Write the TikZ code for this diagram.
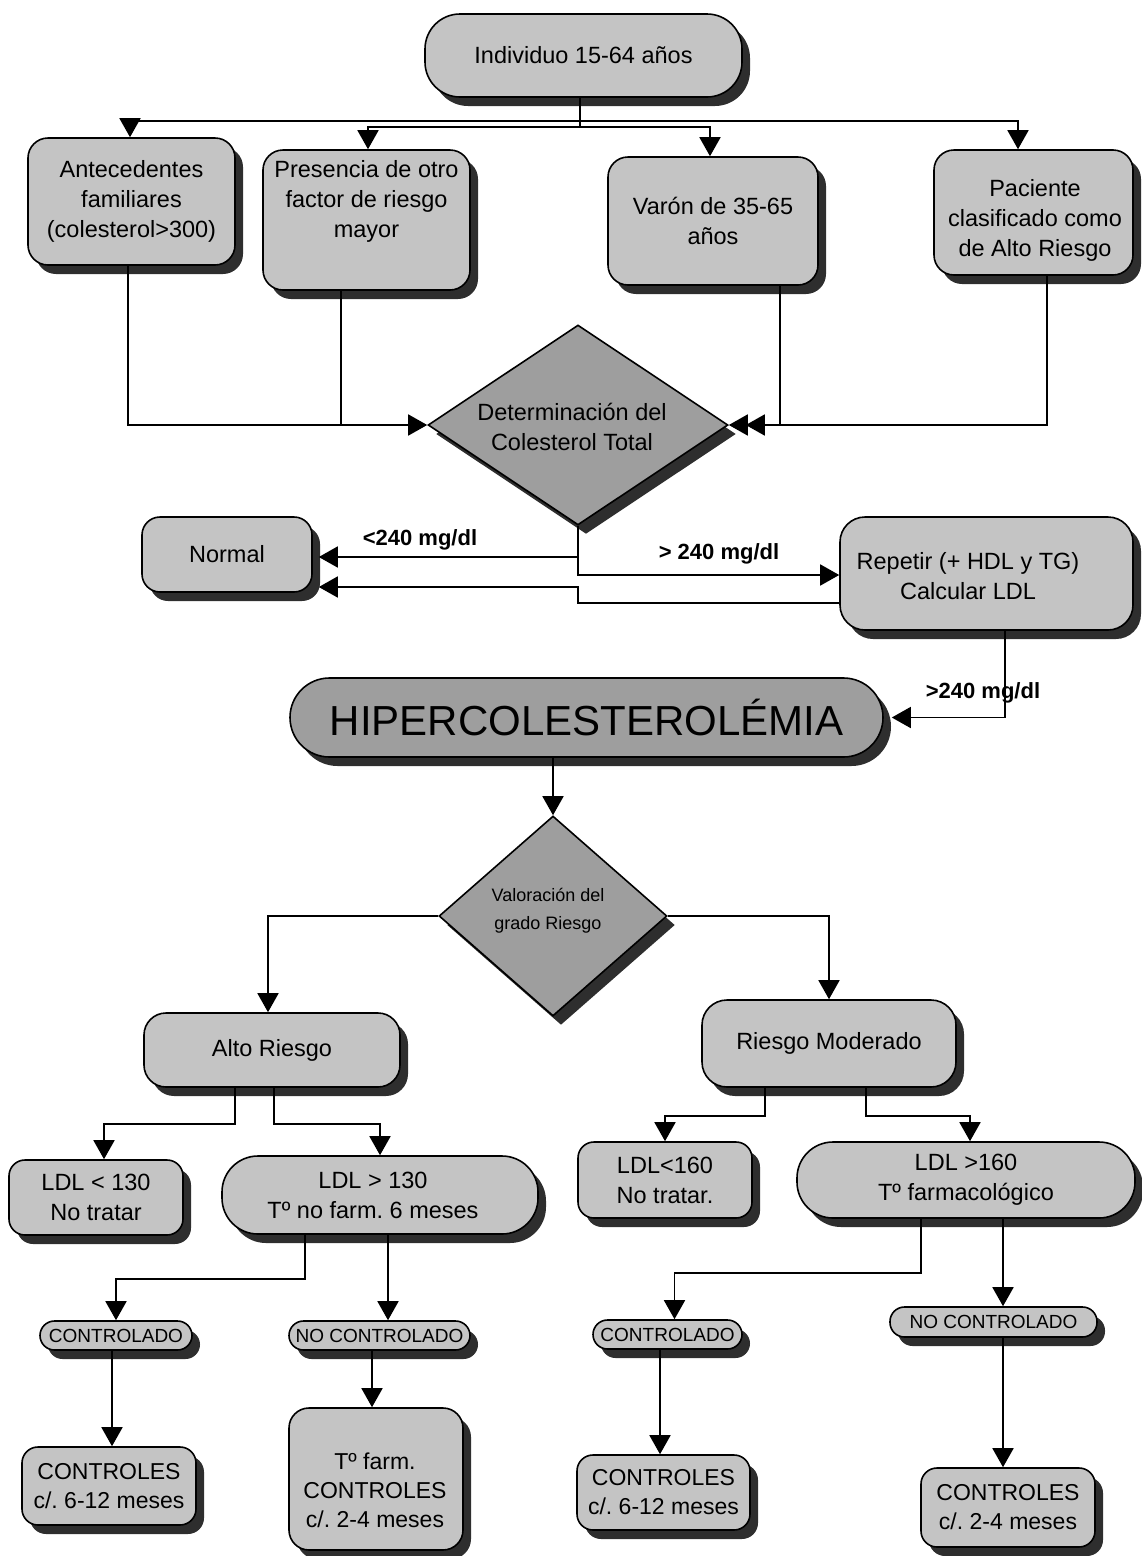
\documentclass[tikz,border=0pt]{standalone}
\usepackage{fontspec}
\setmainfont{Liberation Sans}
\usetikzlibrary{shapes.geometric,shadows,arrows.meta}
\definecolor{boxgray}{gray}{0.77}
\definecolor{diagray}{gray}{0.62}
\definecolor{shadowgray}{gray}{0.18}
\newcommand{\fmain}{\frenchspacing\fontsize{23.5}{30}\selectfont}
\newcommand{\fsmall}{\frenchspacing\fontsize{18}{28}\selectfont}
\newcommand{\fpill}{\fontsize{19}{22}\selectfont}
\newcommand{\fbig}{\fontsize{42}{48}\selectfont}
\newcommand{\flab}{\bfseries\fontsize{22}{26}\selectfont}
\newcommand{\fcon}{\frenchspacing\fontsize{23}{29}\selectfont}
\begin{document}
\begin{tikzpicture}[x=1pt,y=-1pt,
  shad/.style={drop shadow={shadow xshift=8pt,shadow yshift=-9pt,fill=shadowgray,opacity=1}},
  box/.style={draw=black,line width=1.6pt,fill=boxgray,shad,rounded corners=#1,align=center,inner sep=1pt,font=\fmain},
  box/.default=20pt,
  pill/.style={box=14.5pt,minimum height=29pt,font=\fpill,inner sep=0pt},
  dia/.style={diamond,draw=black,line width=1.6pt,fill=diagray,shad,inner sep=0pt},
  txt/.style={align=center,inner sep=0pt,font=\fmain},
  lab/.style={inner sep=0pt,font=\flab},
  ln/.style={line width=1.7pt},
  arr/.style={line width=1.7pt,-{Triangle[length=19pt,width=21pt]}}]
\useasboundingbox (0,0) rectangle (1141,1556);

% nodes
\node[box=35pt,minimum width=317pt,minimum height=83pt] (ind) at (583.5,55.5) {Individuo 15-64 años};
\node[box,minimum width=207pt,minimum height=127pt] (ant) at (131.5,201.5) {Antecedentes\\familiares\\(colesterol>300)};
\node[box,minimum width=207pt,minimum height=140pt] (pres) at (366.5,220) {};
\node[txt] (presT) at (366.5,201) {Presencia de otro\\factor de riesgo\\mayor};
\node[box,minimum width=210pt,minimum height=128pt] (var) at (713,221) {Varón de 35-65\\años};
\node[box,minimum width=199pt,minimum height=125pt] (pac) at (1033.5,212.5) {};
\node[txt] (pacT) at (1035,220) {Paciente\\clasificado como\\de Alto Riesgo};

\node[dia,minimum width=300pt,minimum height=200pt] (dia1) at (578,425) {};
\node[txt] (dia1T) at (572,427) {Determinación del\\Colesterol Total};

\node[box=18pt,minimum width=170pt,minimum height=75pt] (nor) at (227,554.5) {Normal};
\node[box=25pt,minimum width=293pt,minimum height=113pt] (rep) at (986.5,573.5) {};
\node[txt] (repT) at (968,576) {Repetir (+ HDL y TG)\\Calcular LDL};

\node[box=39.5pt,minimum width=593pt,minimum height=79pt,fill=diagray,font=\fbig] (hip) at (586.5,717.5) {HIPERCOLESTEROLÉMIA};

\node[dia,minimum width=228pt,minimum height=200pt] (dia2) at (553,916) {};
\node[txt,font=\fsmall] (dia2T) at (548,911) {Valoración del\\grado Riesgo};

\node[box=22pt,minimum width=256pt,minimum height=74pt] (alto) at (272,1050) {Alto Riesgo};
\node[box=25pt,minimum width=254pt,minimum height=87pt] (mod) at (829,1043.5) {Riesgo Moderado};

\node[box=16pt,minimum width=174pt,minimum height=75pt] (l130) at (96,1197.5) {LDL < 130\\No tratar};
\node[box=36pt,minimum width=316pt,minimum height=78pt] (g130) at (380,1195) {};
\node[txt] (g130T) at (373,1195.5) {LDL > 130\\Tº no farm. 6 meses};
\node[box=16pt,minimum width=174pt,minimum height=76pt] (l160) at (665,1180) {LDL<160\\No tratar.};
\node[box=36pt,minimum width=338pt,minimum height=76pt] (g160) at (966,1180) {LDL >160\\Tº farmacológico};

\node[pill,minimum width=152pt] (ctl1) at (116,1335.5) {CONTROLADO};
\node[pill,minimum width=181pt] (nc1) at (379.5,1335.5) {NO CONTROLADO};
\node[pill,minimum width=149pt] (ctl2) at (667.5,1334.5) {CONTROLADO};
\node[pill,minimum width=207pt,minimum height=30pt] (nc2) at (993.5,1322) {NO CONTROLADO};

\node[box=16pt,minimum width=174pt,minimum height=78pt,font=\fcon] (con1) at (109,1486) {CONTROLES\\c/. 6-12 meses};
\node[box=20pt,minimum width=174pt,minimum height=142pt] (farm) at (376,1479) {};
\node[txt,font=\fcon] (farmT) at (375,1490) {Tº farm.\\CONTROLES\\c/. 2-4 meses};
\node[box=16pt,minimum width=173pt,minimum height=75pt,font=\fcon] (con2) at (663.5,1492.5) {CONTROLES\\c/. 6-12 meses};
\node[box=16pt,minimum width=174pt,minimum height=79pt,font=\fcon] (con3) at (1008,1507.5) {CONTROLES\\c/. 2-4 meses};

% labels
\node[lab] (lb1) at (420,540) {<240 mg/dl};
\node[lab] (lb2) at (719,554) {> 240 mg/dl};
\node[lab] (lb3) at (983,693) {>240 mg/dl};

% connectors
\coordinate (t1) at (580,121);
\coordinate (t2) at (580,127);
\draw[ln] (ind.south -| t1) -- (t2);
\draw[arr] (t1) -| ([xshift=-1.5pt]ant.north);
\draw[arr] (t1) -| ([xshift=-15.5pt]pac.north);
\draw[arr] (t2) -| ([xshift=1.5pt]pres.north);
\draw[arr] (t2) -| ([xshift=-3pt]var.north);

\coordinate (m1) at (128,425);
\coordinate (m2) at (1047,425);
\coordinate (m3) at (341,425);
\coordinate (m4) at (780,425);
\draw[arr] (ant.south -| m1) -- (m1) -- (dia1.west);
\draw[ln] (pres.south -| m3) -- (m3);
\draw[ln] (var.south -| m4) -- (m4);
\draw[arr] (pac.south -| m2) -- (m2) -- (dia1.east);
\draw[arr] (m4) -- ([xshift=17pt]dia1.east);

\coordinate (nE) at ([xshift=6pt]nor.east);
\coordinate (b1) at (578,557);
\coordinate (b2) at (578,575);
\draw[arr] (dia1.south) -- (b1) -- (b1 -| nE);
\draw[arr] (b1) -- (b2) -- (b2 -| rep.west);
\coordinate (r1) at (578,603);
\coordinate (r2) at (578,587);
\draw[arr] (r1 -| rep.west) -- (r1) -- (r2) -- (r2 -| nE);

\coordinate (h1) at (1005,717.5);
\coordinate (hE) at ([xshift=8pt]hip.east);
\draw[arr] (rep.south -| h1) -- (h1) -- (hE);

\draw[arr] (hip.south -| dia2.north) -- (dia2.north);
\draw[arr] (dia2.west) -| ([xshift=-4pt]alto.north);
\draw[arr] (dia2.east) -| (mod.north);

\coordinate (a1) at (235,1124);
\coordinate (a2) at (274,1124);
\draw[arr] (alto.south -| a1) -- (a1) -| ([xshift=8pt]l130.north);
\draw[arr] (alto.south -| a2) -- (a2) -| (g130.north);

\coordinate (c1) at (765,1116);
\coordinate (c2) at (866,1116);
\draw[arr] (mod.south -| c1) -- (c1) -| (l160.north);
\draw[arr] (mod.south -| c2) -- (c2) -| ([xshift=4pt]g160.north);

\coordinate (d1) at (305,1279);
\coordinate (d2) at (388,1279);
\draw[arr] (g130.south -| d1) -- (d1) -| (ctl1.north);
\draw[arr] (g130.south -| d2) -- (nc1.north -| d2);

\coordinate (e1) at (921,1273);
\coordinate (e2) at (1003,1273);
\draw[arr] (g160.south -| e1) -- (e1) -| ([xshift=7pt]ctl2.north);
\draw[arr] (g160.south -| e2) -- (nc2.north -| e2);

\coordinate (f1) at (112,1400);
\coordinate (f2) at (372,1400);
\coordinate (f3) at (660,1400);
\coordinate (f4) at (1003,1400);
\draw[arr] (ctl1.south -| f1) -- (con1.north -| f1);
\draw[arr] (nc1.south -| f2) -- (farm.north -| f2);
\draw[arr] (ctl2.south -| f3) -- (con2.north -| f3);
\draw[arr] (nc2.south -| f4) -- (con3.north -| f4);
\end{tikzpicture}
\end{document}
